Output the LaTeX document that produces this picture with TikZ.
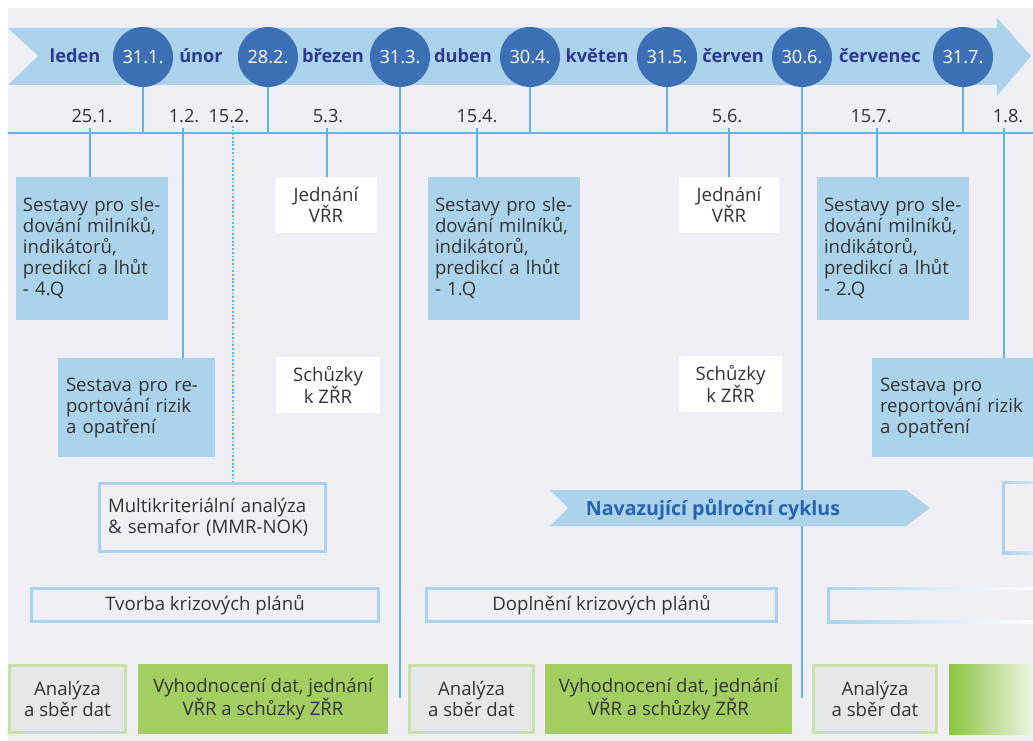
\documentclass[tikz,border=0pt]{standalone}
\usepackage{fontspec}
\setmainfont{Open Sans}
\usetikzlibrary{calc}
\definecolor{bgc}{HTML}{EFEFF5}
\definecolor{bandblue}{HTML}{ABD4EC}
\definecolor{circblue}{HTML}{3D6FB5}
\definecolor{monthblue}{HTML}{2C3A8D}
\definecolor{lineblue}{HTML}{5CB6E6}
\definecolor{boxblue}{HTML}{ABD4EC}
\definecolor{txt}{HTML}{333333}
\definecolor{navblue}{HTML}{2763AE}
\definecolor{anagray}{HTML}{E6E7EA}
\definecolor{anagreen}{HTML}{C8E3A6}
\definecolor{vyhgreen}{HTML}{A3CE62}
\definecolor{gradgreen}{HTML}{8BC53F}
\definecolor{gradlight}{HTML}{EEF4E4}
\begin{document}
\begin{tikzpicture}[x=1pt,y=-1pt,
  every node/.style={font=\fontsize{18.6}{21}\selectfont, text=txt},
  conn/.style={draw=lineblue, line width=1.4pt},
  dotconn/.style={draw=lineblue, line width=1.9pt, dash pattern=on 1.8pt off 1.9pt},
  circ/.style={circle, fill=circblue, minimum size=60pt, inner sep=0pt, text=white, font=\fontsize{18.2}{21}\selectfont},
  month/.style={text=monthblue, font=\fontsize{18.2}{21}\selectfont\bfseries, anchor=base, inner sep=0pt},
  datelbl/.style={inner sep=0pt, anchor=base, font=\fontsize{18.2}{21}\selectfont},
  bluebox/.style={fill=boxblue, inner ysep=0pt, align=left, anchor=center, minimum height=#1},
  whitebox/.style={fill=white, align=center, inner sep=0pt, minimum height=56pt},
  outbox/.style={draw=boxblue, line width=3pt, fill=bgc, inner ysep=0pt},
  anabox/.style={fill=anagray, draw=anagreen, line width=3pt, align=center, inner sep=0pt, minimum height=67pt},
  vyhbox/.style={fill=vyhgreen, align=center, inner sep=0pt, minimum height=70pt},
]
\useasboundingbox (0,0) rectangle (1033,741);
\fill[bgc] (8,8) rectangle (1033,741);

% timeline band
\fill[bandblue] (8,28) -- (997,28) -- (997,18) -- (1031,56) -- (997,96) -- (997,85) -- (8,85) -- (38,56) -- cycle;

% horizontal line
\coordinate (hlL) at (8,133);
\coordinate (hlR) at (1033,133);
\draw[conn] (hlL) -- (hlR);

% circles
\node[circ] (c1) at (143,57) {31.1.};
\node[circ] (c2) at (268,57) {28.2.};
\node[circ] (c3) at (400,57) {31.3.};
\node[circ] (c4) at (530,57) {30.4.};
\node[circ] (c5) at (667,57) {31.5.};
\node[circ] (c6) at (802,57) {30.6.};
\node[circ] (c7) at (963,57) {31.7.};

% months
\node[month] (m1) at (75,63) {leden};
\node[month] (m2) at (201,63) {únor};
\node[month] (m3) at (333,63) {březen};
\node[month] (m4) at (463,63) {duben};
\node[month] (m5) at (597,63) {květen};
\node[month] (m6) at (733,63) {červen};
\node[month] (m7) at (880,63) {červenec};

% date labels
\node[datelbl] (d1) at (92,123) {25.1.};
\node[datelbl] (d2) at (184,123) {1.2.};
\node[datelbl] (d3) at (229,123) {15.2.};
\node[datelbl] (d4) at (328,123) {5.3.};
\node[datelbl] (d5) at (477,123) {15.4.};
\node[datelbl] (d6) at (727,123) {5.6.};
\node[datelbl] (d7) at (871,123) {15.7.};
\node[datelbl] (d8) at (1008,123) {1.8.};

\coordinate (t1) at (90,128);
\coordinate (t2) at (183,128);
\coordinate (t3) at (233,126);
\coordinate (t4) at (327,128);
\coordinate (t5) at (477,128);
\coordinate (t6) at (729,128);
\coordinate (t7) at (877,128);
\coordinate (t8) at (1004,128);

% blue boxes
\node[bluebox=143pt, inner xsep=7pt, text width=138pt] (bA) at (92,248.5)
  {Sestavy pro sle-\\dování milníků,\\indikátorů,\\predikcí a lhůt\\- 4.Q};
\node[bluebox=99pt, inner xsep=8pt, text width=141pt] (bB) at (136.5,407.5)
  {Sestava pro re-\\portování rizik\\a opatření};
\node[bluebox=143pt, inner xsep=7pt, text width=138pt] (bC) at (504,248.5)
  {Sestavy pro sle-\\dování milníků,\\indikátorů,\\predikcí a lhůt\\- 1.Q};
\node[bluebox=143pt, inner xsep=7pt, text width=138pt] (bD) at (893,248.5)
  {Sestavy pro sle-\\dování milníků,\\indikátorů,\\predikcí a lhůt\\- 2.Q};
\node[bluebox=99pt, inner xsep=8pt, text width=145pt] (bE) at (952.5,407.5)
  {Sestava pro\\reportování rizik\\a opatření};

% white boxes
\node[whitebox, minimum width=102pt] (j1) at (326,205) {Jednání\\VŘR};
\node[whitebox, minimum width=100pt] (j2) at (729,205) {Jednání\\VŘR};
\node[whitebox, minimum width=104pt] (s1) at (328,385) {Schůzky\\k ZŘR};
\node[whitebox, minimum width=103pt] (s2) at (730.5,384) {Schůzky\\k ZŘR};

% outlined boxes
\node[outbox, align=left, inner xsep=8.5pt, text width=209pt, minimum height=68pt] (mk) at (212.5,517.5)
  {Multikriteriální analýza\\\& semafor (MMR-NOK)};
\node[outbox, minimum width=347pt, minimum height=33pt] (tv) at (205,605) {Tvorba krizových plánů};
\node[outbox, minimum width=350pt, minimum height=33pt] (dp) at (601.5,605) {Doplnění krizových plánů};

% fading fragments at the right edge
\shade[left color=boxblue, right color=boxblue!60!white] (1002,481) rectangle (1033,554);
\fill[bgc] (1005,484) rectangle (1033,551);
\shade[left color=boxblue, right color=white] (827,587) rectangle (1033,623);
\fill[bgc] (830,590) rectangle (1033,620);
\shade[left color=gradgreen, right color=gradlight] (949,664) rectangle (1033,734);

% bottom boxes
\node[anabox, minimum width=116pt] (a1) at (67.5,699) {Analýza\\a sběr dat};
\node[vyhbox, minimum width=250pt] (v1) at (263,699) {Vyhodnocení dat, jednání\\VŘR a schůzky ZŘR};
\node[anabox, minimum width=124pt] (a2) at (471.5,699) {Analýza\\a sběr dat};
\node[vyhbox, minimum width=247pt] (v2) at (668.5,699) {Vyhodnocení dat, jednání\\VŘR a schůzky ZŘR};
\node[anabox, minimum width=123pt] (a3) at (875,699) {Analýza\\a sběr dat};

% connectors from circles
\coordinate (e3) at (400,698);
\coordinate (e6) at (802,698);
\draw[conn] (c1.south) -- (c1.south |- hlL);
\draw[conn] (c2.south) -- (c2.south |- hlL);
\draw[conn] (c3.south) -- (e3);
\draw[conn] (c4.south) -- (c4.south |- hlL);
\draw[conn] (c5.south) -- (c5.south |- hlL);
\draw[conn] (c6.south) -- (e6);
\draw[conn] (c7.south) -- (c7.south |- hlL);

% ticks from dates
\draw[conn] (t1) -- (t1 |- bA.north);
\draw[conn] (t2) -- (t2 |- bB.north);
\draw[dotconn] (t3) -- (t3 |- mk.north);
\draw[conn] (t4) -- (t4 |- j1.north);
\draw[conn] (t5) -- (t5 |- bC.north);
\draw[conn] (t6) -- (t6 |- j2.north);
\draw[conn] (t7) -- (t7 |- bD.north);
\draw[conn] (t8) -- (t8 |- bE.north);

% follow-up cycle arrow
\fill[bandblue] (550,490) -- (906,490) -- (930,508) -- (906,526) -- (550,526) -- (568,508) -- cycle;
\node[anchor=base, inner sep=0pt, text=navblue, font=\fontsize{19.6}{21}\selectfont\bfseries] (nav) at (713,515) {Navazující půlroční cyklus};
\end{tikzpicture}
\end{document}
